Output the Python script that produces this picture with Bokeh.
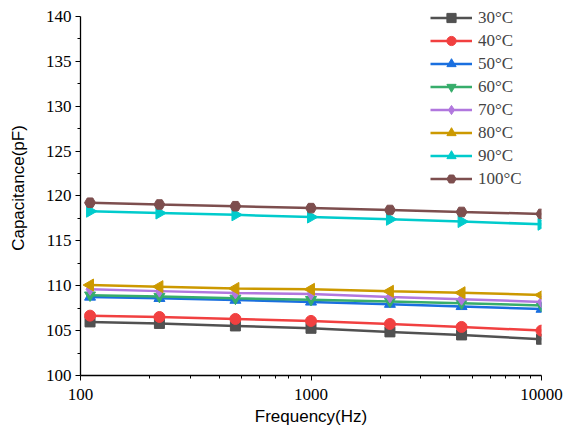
import numpy as np
from bokeh.plotting import figure
from bokeh.models import FixedTicker, PrintfTickFormatter, Range1d, Legend, LegendItem
from bokeh.embed import file_html
from bokeh.resources import INLINE

freq = [110, 220, 470, 1000, 2200, 4500, 10000]
labels = ["30°C", "40°C", "50°C", "60°C", "70°C", "80°C", "90°C", "100°C"]
c30 = [105.97, 105.8, 105.52, 105.26, 104.86, 104.52, 104.04]
c40 = [106.67, 106.52, 106.3, 106.08, 105.74, 105.41, 105.0]
c50 = [108.75, 108.6, 108.4, 108.2, 107.95, 107.7, 107.4]
c60 = [108.95, 108.8, 108.6, 108.45, 108.25, 108.05, 107.8]
c70 = [109.6, 109.4, 109.2, 109.08, 108.75, 108.5, 108.2]
c80 = [110.08, 109.9, 109.7, 109.6, 109.38, 109.22, 108.97]
c90 = [118.3, 118.1, 117.9, 117.65, 117.4, 117.15, 116.85]
c100 = [119.25, 119.05, 118.86, 118.65, 118.44, 118.22, 118.0]
series = [c30, c40, c50, c60, c70, c80, c90, c100]

colors = ["#515151", "#F14040", "#1A6FDF", "#37AD6B", "#B177DE", "#CC9900", "#00CBCC", "#7D4E4E"]
markers = ["square", "circle", "triangle", "inverted_triangle", "diamond", "triangle", "triangle", "hex"]
angles = [0, 0, 0, 0, 0, np.pi / 2, -np.pi / 2, 0]
sizes = [10, 11, 11, 11, 12, 12, 12, 11]

# frame spans from the top of the canvas; the axis line is bounded to 100..140
p = figure(width=564, height=428, x_axis_type="log", output_backend="svg",
           toolbar_location=None, x_range=Range1d(100, 10000), y_range=Range1d(100, 100 + 376 / 9),
           min_border_left=80, min_border_right=23, min_border_top=0, min_border_bottom=52)
p.outline_line_color = None
p.grid.visible = False
p.background_fill_color = "white"

items = []
for lab, ys, col, mk, ang, sz in zip(labels, series, colors, markers, angles, sizes):
    r1 = p.line(freq, ys, line_color=col, line_width=2.5)
    r2 = p.scatter(freq, ys, marker=mk, angle=ang, size=sz, fill_color=col, line_color=col)
    items.append(LegendItem(label=lab, renderers=[r1, r2]))

legend = Legend(items=items, location=(350, 185), padding=0, spacing=0, glyph_width=42,
                glyph_height=23, label_height=23, label_standoff=6, margin=0,
                label_text_font="Liberation Serif", label_text_font_size="17px",
                background_fill_alpha=0, border_line_color=None)
p.add_layout(legend, "center")

xminor = [200, 300, 400, 500, 600, 700, 800, 900, 2000, 3000, 4000, 5000, 6000, 7000, 8000, 9000]
p.xaxis.ticker = FixedTicker(ticks=[100, 1000, 10000], minor_ticks=xminor)
p.xaxis.formatter = PrintfTickFormatter(format="%d")
p.yaxis.ticker = FixedTicker(ticks=list(range(100, 141, 5)),
                             minor_ticks=[102.5 + 5 * i for i in range(8)])
p.yaxis.bounds = (100, 140)

p.axis.axis_line_color = "black"
p.axis.axis_line_width = 1.3
p.axis.major_tick_line_color = "black"
p.axis.minor_tick_line_color = "black"
p.axis.major_tick_out = 5
p.axis.major_tick_in = 0
p.axis.minor_tick_out = 3
p.axis.minor_tick_in = 0
p.axis.major_label_text_font = "Liberation Serif"
p.axis.major_label_text_font_size = "17px"
p.axis.major_label_text_color = "black"
p.axis.axis_label_text_font = "Liberation Sans"
p.axis.axis_label_text_font_size = "17px"
p.axis.axis_label_text_font_style = "normal"
p.axis.axis_label_text_color = "black"

p.xaxis.axis_label = "Frequency(Hz)"
p.yaxis.axis_label = "Capacitance(pF)"
p.xaxis.major_label_standoff = 8
p.yaxis.major_label_standoff = 4
p.xaxis.axis_label_standoff = 4
p.yaxis.axis_label_standoff = 15

open("out.html", "w").write(file_html(p, INLINE))
